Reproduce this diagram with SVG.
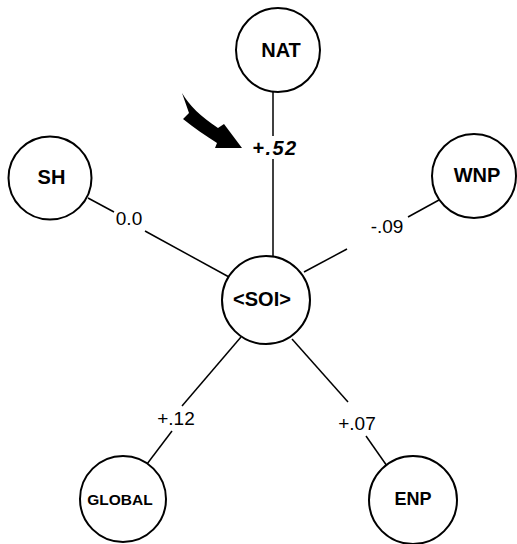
<svg xmlns="http://www.w3.org/2000/svg" width="517" height="544" viewBox="0 0 517 544">
<style>
.node circle{fill:#fff;stroke:#000;stroke-width:2}
.node text{font-family:"Liberation Sans",Arial,sans-serif;font-weight:bold;font-size:20px;text-anchor:middle;dominant-baseline:central;fill:#000}
#edges line{stroke:#000;stroke-width:1.5}
.lbl{font-family:"Liberation Sans",Arial,sans-serif;font-size:19px;text-anchor:middle;dominant-baseline:central;fill:#000}
</style>
<rect width="517" height="544" fill="#fff"/>
<g id="edges">
<line x1="273" y1="92" x2="273" y2="136"/>
<line x1="273" y1="159" x2="273" y2="257"/>
<line x1="88" y1="198" x2="114" y2="212"/>
<line x1="145" y1="231" x2="229" y2="277"/>
<line x1="439" y1="200" x2="408" y2="217"/>
<line x1="347" y1="249" x2="304" y2="272"/>
<line x1="147" y1="464" x2="172" y2="431"/>
<line x1="182" y1="406" x2="241" y2="337"/>
<line x1="387" y1="466" x2="366" y2="436"/>
<line x1="348" y1="402" x2="292" y2="339"/>
<text class="lbl" x="129" y="218">0.0</text>
<text class="lbl" x="387" y="226">-.09</text>
<text class="lbl" x="176" y="418">+.12</text>
<text class="lbl" x="357" y="423">+.07</text>
<text class="lbl" x="275" y="148" style="font-weight:bold;font-style:italic;font-size:20px;letter-spacing:1.5px">+.52</text>
</g>
<g id="arrow">
<path d="M182,93 C189,105 201,117 218,128 L224,124 L242,148 L215,148 L217,143 C206,136 194,128 183,119 L189,113 Z" fill="#000"/>
</g>
<g id="NAT" class="node"><circle cx="278" cy="50" r="42"/><text x="281" y="50">NAT</text></g>
<g id="SH" class="node"><circle cx="50" cy="178" r="41.5"/><text x="51.5" y="177">SH</text></g>
<g id="WNP" class="node"><circle cx="474" cy="176" r="42"/><text x="477" y="175">WNP</text></g>
<g id="SOI" class="node"><circle cx="266" cy="300" r="44"/><text x="262" y="299" style="font-size:20px">&lt;SOI&gt;</text></g>
<g id="GLOBAL" class="node"><circle cx="123" cy="499" r="43"/><text x="120" y="499" style="font-size:15.5px">GLOBAL</text></g>
<g id="ENP" class="node"><circle cx="413" cy="500" r="44"/><text x="413" y="499" style="font-size:18px">ENP</text></g>
</svg>
